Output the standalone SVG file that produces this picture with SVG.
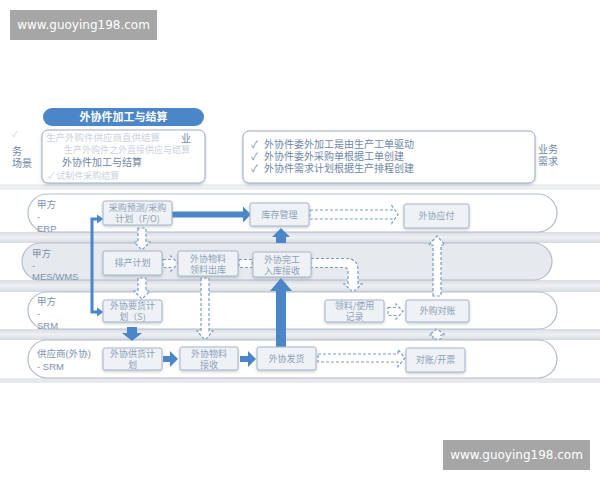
<svg xmlns="http://www.w3.org/2000/svg" width="600" height="480" viewBox="0 0 600 480">
<defs>
<filter id="sh" x="-20%" y="-20%" width="140%" height="150%">
<feDropShadow dx="0" dy="1.5" stdDeviation="1.5" flood-color="#8a94a3" flood-opacity="0.45"/>
</filter>
<linearGradient id="band" x1="0" y1="0" x2="0" y2="1">
<stop offset="0" stop-color="#d9dde3"/>
<stop offset="0.5" stop-color="#eef0f3"/>
<stop offset="1" stop-color="#d6dae0"/>
</linearGradient>
</defs>
<style>
.wm{fill:#a6a6a6}
.wmt{font-family:"DejaVu Sans","Noto Sans",sans-serif;font-size:12px;fill:#ffffff}
.lane{fill:#ffffff;stroke:#b3bccb;stroke-width:1.2}
.lane2{fill:#e6e9ee;stroke:#b3bccb;stroke-width:1.2}
.lbl{font-family:"Liberation Sans","Noto Sans CJK SC",sans-serif;font-size:9.5px;fill:#7d92ad}
.box{fill:#eef1f5;stroke:#a9b6c7;stroke-width:1;filter:url(#sh)}
.nt{font-family:"Noto Sans CJK SC","Noto Sans",sans-serif;font-size:9px;fill:#8ea1ba;text-anchor:middle}
.card{fill:#ffffff;stroke:#9eacbf;stroke-width:1;filter:url(#sh)}
.ct{font-family:"Noto Sans CJK SC","Noto Sans",sans-serif;font-size:10px;fill:#6f86a6}
.faint{fill:#cad2dd}
.solid{fill:#4a86c8}
.dash{fill:#ffffff;stroke:#7c9cc6;stroke-width:1.2;stroke-dasharray:3 2}
</style>
<rect width="600" height="480" fill="#ffffff"/>

<!-- watermarks -->
<rect class="wm" x="10" y="10" width="147" height="30"/>
<text class="wmt" x="83.5" y="29" text-anchor="middle">www.guoying198.com</text>
<rect class="wm" x="443" y="440" width="147" height="30"/>
<text class="wmt" x="516.5" y="459" text-anchor="middle">www.guoying198.com</text>

<!-- header -->
<g id="title">
<rect x="43" y="108" width="161" height="18" rx="9" fill="#4a86c8"/>
<text x="123.5" y="121" text-anchor="middle" font-family="Noto Sans CJK SC, sans-serif" font-size="11" font-weight="bold" fill="#ffffff">外协件加工与结算</text>
</g>
<rect x="0" y="184" width="600" height="6" fill="#eceef1"/>
<g id="scene">
<text class="ct"><tspan x="12" y="137" class="faint" font-size="8">✓</tspan><tspan x="12" y="155">务</tspan><tspan x="12" y="167">场景</tspan></text>
<rect class="card" x="42" y="130" width="163" height="53" rx="6"/>
<text class="ct"><tspan x="46" y="141" class="faint" font-size="9.5">生产外购件供应商直供结算</tspan><tspan x="181" y="142">业</tspan><tspan x="64" y="153" class="faint" font-size="9">生产外购件之外直接供应与结算</tspan><tspan x="62" y="166">外协件加工与结算</tspan><tspan x="48" y="179" class="faint" font-size="9">✓ 试制件采购结算</tspan></text>
</g>
<g id="needs">
<rect class="card" x="243" y="131" width="292" height="52" rx="6"/>
<text class="ct"><tspan x="251" y="148">✓</tspan><tspan x="264" y="148">外协件委外加工是由生产工单驱动</tspan><tspan x="251" y="160">✓</tspan><tspan x="264" y="160">外协件委外采购单根据工单创建</tspan><tspan x="251" y="172">✓</tspan><tspan x="264" y="172">外协件需求计划根据生产排程创建</tspan></text>
<text class="ct"><tspan x="538" y="153">业务</tspan><tspan x="538" y="165">需求</tspan></text>
</g>

<!-- lanes -->
<g id="lanes">
<rect x="0" y="232" width="600" height="11" fill="url(#band)"/>
<rect x="0" y="280" width="600" height="12" fill="url(#band)"/>
<rect x="0" y="329" width="600" height="11" fill="url(#band)"/>
<rect x="0" y="378" width="600" height="5" fill="#e6e9ed"/>
<rect class="lane" x="28" y="194" width="529" height="38" rx="19"/>
<rect class="lane2" x="22" y="243" width="530" height="37" rx="18.5"/>
<rect class="lane" x="28" y="292" width="529" height="37" rx="18.5"/>
<rect class="lane" x="28" y="340" width="529" height="38" rx="19"/>
<text class="lbl"><tspan x="37" y="208">甲方</tspan><tspan x="37" y="220">-</tspan><tspan x="37" y="231.5">ERP</tspan></text>
<text class="lbl"><tspan x="32" y="257">甲方</tspan><tspan x="32" y="269">-</tspan><tspan x="32" y="280">MES/WMS</tspan></text>
<text class="lbl"><tspan x="37" y="305">甲方</tspan><tspan x="37" y="317">-</tspan><tspan x="37" y="328.5">SRM</tspan></text>
<text class="lbl"><tspan x="37" y="357">供应商(外协)</tspan><tspan x="37" y="370">- SRM</tspan></text>
</g>

<!-- connectors -->
<g id="connectors">
<path class="solid" d="M172,211.5 H243 V206.5 L251,214.5 L243,222.5 V217.5 H172 Z"/>
<path d="M98,219 H92 V312 H98" fill="none" stroke="#4a86c8" stroke-width="3"/>
<path class="solid" d="M97,214.5 L103.5,219 L97,223.5 Z"/>
<path class="solid" d="M97,307.5 L103.5,312 L97,316.5 Z"/>
<path class="solid" d="M276,243 V237 H272 L281,228 L290,237 H286 V243 Z"/>
<path class="solid" d="M276,347 V291 H270 L281,278 L292,291 H286 V347 Z"/>
<path class="solid" d="M127,327 H137 V333 H142 L132,341 L122,333 H127 Z"/>
<path class="solid" d="M163,356 H170 V351 L178,359 L170,367 V362 H163 Z"/>
<path class="solid" d="M240,356 H248 V351 L256,359 L248,367 V362 H240 Z"/>

<path class="dash" d="M138,228 V242 H134 L142,250 L150,242 H146 V228 Z"/>
<path class="dash" d="M163,259.5 H171 V256 L178,263.5 L171,271 V267.5 H163 Z"/>
<rect class="dash" x="239" y="259.5" width="13" height="8"/>
<path class="dash" d="M310,210 H392 V206 L398,214.5 L392,223 V219 H310 Z"/>
<path class="dash" d="M311,258.5 H346 Q358,258.5 358,270 V284 H362 L353,292 L344,284 H348 V271 Q348,267.5 344,267.5 H311 Z"/>
<path class="dash" d="M138,278 V291 H134 L142,299 L150,291 H146 V278 Z"/>
<path class="dash" d="M201,278 V331 H197 L205,340 L213,331 H209 V278 Z"/>
<path class="dash" d="M433,296 V245 H429 L437,236 L445,245 H441 V296 Z"/>
<path class="dash" d="M388,307.5 H396 V304 L403,311.5 L396,319 V315.5 H388 Z"/>
<path class="dash" d="M433,339 V335 H429 L437,329 L445,335 H441 V339 Z"/>
<path class="dash" d="M318,354 H398 V349.5 L405,358 L398,366.5 V362 H318 Z"/>
</g>

<!-- nodes -->
<g id="n-plan"><rect class="box" x="103" y="201" width="69" height="24" rx="2"/><text class="nt"><tspan x="137.5" y="211">采购预测/采购</tspan><tspan x="137.5" y="222">计划（F/O)</tspan></text></g>
<g id="n-stock"><rect class="box" x="250" y="203" width="59" height="23" rx="2"/><text class="nt" x="279.5" y="217.5">库存管理</text></g>
<g id="n-pay"><rect class="box" x="404" y="204" width="65" height="24" rx="2"/><text class="nt" x="436.5" y="219">外协应付</text></g>
<g id="n-sched"><rect class="box" x="103" y="251" width="59" height="24" rx="2"/><text class="nt" x="132.5" y="266">排产计划</text></g>
<g id="n-issue"><rect class="box" x="178" y="251" width="60" height="25" rx="2"/><text class="nt"><tspan x="208" y="261.5">外协物料</tspan><tspan x="208" y="272.5">领料出库</tspan></text></g>
<g id="n-recv"><rect class="box" x="253" y="252" width="58" height="25" rx="2"/><text class="nt"><tspan x="282" y="262.5">外协完工</tspan><tspan x="282" y="273.5">入库接收</tspan></text></g>
<g id="n-req"><rect class="box" x="103" y="300" width="59" height="22" rx="2"/><text class="nt"><tspan x="132.5" y="309">外协要货计</tspan><tspan x="132.5" y="320">划（S)</tspan></text></g>
<g id="n-use"><rect class="box" x="325" y="300" width="59" height="22" rx="2"/><text class="nt"><tspan x="354.5" y="309">领料/使用</tspan><tspan x="354.5" y="320">记录</tspan></text></g>
<g id="n-recon"><rect class="box" x="406" y="300" width="63" height="22" rx="2"/><text class="nt" x="437.5" y="314">外购对账</text></g>
<g id="n-supply"><rect class="box" x="103" y="348" width="59" height="22" rx="2"/><text class="nt"><tspan x="132.5" y="357">外协供货计</tspan><tspan x="132.5" y="368">划</tspan></text></g>
<g id="n-mrecv"><rect class="box" x="180" y="347" width="58" height="23" rx="2"/><text class="nt"><tspan x="209" y="356.5">外协物料</tspan><tspan x="209" y="367.5">接收</tspan></text></g>
<g id="n-ship"><rect class="box" x="257" y="347" width="59" height="23" rx="2"/><text class="nt" x="286.5" y="361.5">外协发货</text></g>
<g id="n-bill"><rect class="box" x="406" y="348" width="59" height="24" rx="2"/><text class="nt" x="435.5" y="363">对账/开票</text></g>
</svg>
